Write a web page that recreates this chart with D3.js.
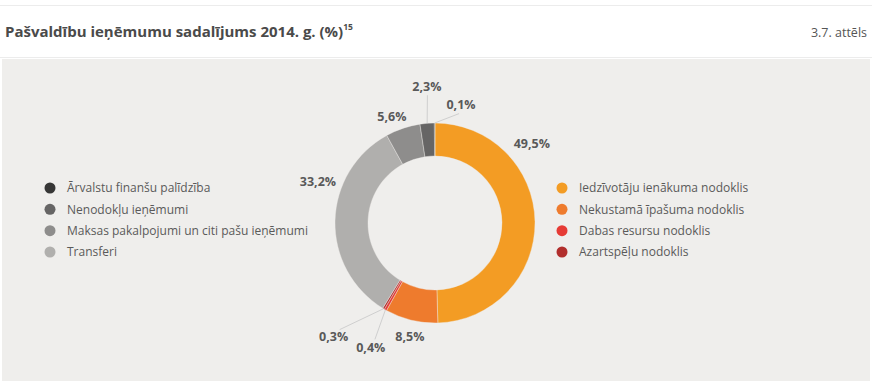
<!DOCTYPE html>
<html>
<head>
<meta charset="utf-8">
<script src="https://cdn.jsdelivr.net/npm/d3@7"></script>
<style>
  body { margin: 0; background: #fff; }
  text { font-family: "Open Sans", "Noto Sans", sans-serif; }
</style>
</head>
<body>
<div id="chart"></div>
<script>
// segments, clockwise from the top
var categories = [
  "Iedzīvotāju ienākuma nodoklis",
  "Nekustamā īpašuma nodoklis",
  "Dabas resursu nodoklis",
  "Azartspēļu nodoklis",
  "Transferi",
  "Maksas pakalpojumi un citi pašu ieņēmumi",
  "Nenodokļu ieņēmumi",
  "Ārvalstu finanšu palīdzība"
];
var values = [49.5, 8.5, 0.4, 0.3, 33.2, 5.6, 2.3, 0.1];
var valueLabels = ["49,5%", "8,5%", "0,4%", "0,3%", "33,2%", "5,6%", "2,3%", "0,1%"];
var colors = ["#f39c24", "#ee7b2d", "#e63b35", "#b12e2c", "#b0afad", "#8e8d8c", "#666565", "#363636"];

var legendLeft = [7, 6, 5, 4];   // indexes into categories
var legendRight = [0, 1, 2, 3];

// where each % label sits: [angle in degrees, radius], and whether it needs a leader line
var labelPlace = [
  [50.8, 125, false],
  [192.5, 116, false],
  [207.3, 140, true],
  [221.8, 152, true],
  [289.3, 124, false],
  [338, 115, false],
  [356.6, 137, true],
  [12.4, 121, true]
];

var width = 872, height = 385;
var cx = 435, cy = 223;
var outerR = 100, innerR = 67;

var svg = d3.select("#chart")
  .append("svg")
    .attr("width", width)
    .attr("height", height);

// header
svg.append("line")
  .attr("x1", 0).attr("x2", width)
  .attr("y1", 5.5).attr("y2", 5.5)
  .style("stroke", "#ececec");
svg.append("line")
  .attr("x1", 0).attr("x2", width)
  .attr("y1", 57.5).attr("y2", 57.5)
  .style("stroke", "#ececec");

var title = svg.append("text")
  .attr("x", 5).attr("y", 37)
  .style("font-size", "15px")
  .style("font-weight", "bold")
  .style("fill", "#4a4a4a")
  .text("Pašvaldību ieņēmumu sadalījums 2014. g. (%)");
title.append("tspan")
  .attr("dy", -7)
  .style("font-size", "8.5px")
  .text("15");

svg.append("text")
  .attr("x", 867).attr("y", 37)
  .attr("text-anchor", "end")
  .style("font-size", "12.5px")
  .style("fill", "#555")
  .text("3.7. attēls");

// grey panel
svg.append("rect")
  .attr("x", 2).attr("y", 59)
  .attr("width", 868).attr("height", 322)
  .style("fill", "#efeeec");

// donut
var pie = d3.pie().sort(null).value(function(d){ return d; });
var arcs = pie(values);
var arc = d3.arc().innerRadius(innerR).outerRadius(outerR);

var g = svg.append("g")
  .attr("transform", "translate(" + cx + "," + cy + ")");

g.selectAll("path")
  .data(arcs)
  .enter()
  .append("path")
    .attr("d", arc)
    .style("fill", function(d, i){ return colors[i]; })
    .style("stroke", "#efeeec")
    .style("stroke-width", 0.4);

// leader lines for the small slices
arcs.forEach(function(d, i){
  var p = labelPlace[i];
  if(!p[2]) return;
  var mid = (d.startAngle + d.endAngle) / 2;
  var a = d3.pointRadial(mid, outerR);
  var b = d3.pointRadial(p[0] * Math.PI / 180, p[1] - 9);
  g.append("line")
    .attr("x1", a[0]).attr("y1", a[1])
    .attr("x2", b[0]).attr("y2", b[1])
    .style("stroke", "#cfcfcf")
    .style("stroke-width", 1);
});

g.selectAll("text.pct")
  .data(arcs)
  .enter()
  .append("text")
    .attr("class", "pct")
    .attr("transform", function(d, i){
      var p = d3.pointRadial(labelPlace[i][0] * Math.PI / 180, labelPlace[i][1]);
      return "translate(" + p[0] + "," + p[1] + ")";
    })
    .attr("dy", "0.35em")
    .attr("text-anchor", "middle")
    .style("font-size", "12.5px")
    .style("font-weight", "bold")
    .style("fill", "#595959")
    .text(function(d, i){ return valueLabels[i]; });

// legends
function legend(list, x) {
  var y = d3.scalePoint().domain(d3.range(list.length)).range([188, 252]);
  var lg = svg.append("g");
  list.forEach(function(idx, k){
    lg.append("circle")
      .attr("cx", x).attr("cy", y(k))
      .attr("r", 5.5)
      .style("fill", colors[idx]);
    lg.append("text")
      .attr("x", x + 17).attr("y", y(k))
      .attr("dy", "0.35em")
      .style("font-size", "12px")
      .style("fill", "#5a5a5a")
      .text(categories[idx]);
  });
}
legend(legendLeft, 50);
legend(legendRight, 562);
</script>
</body>
</html>
